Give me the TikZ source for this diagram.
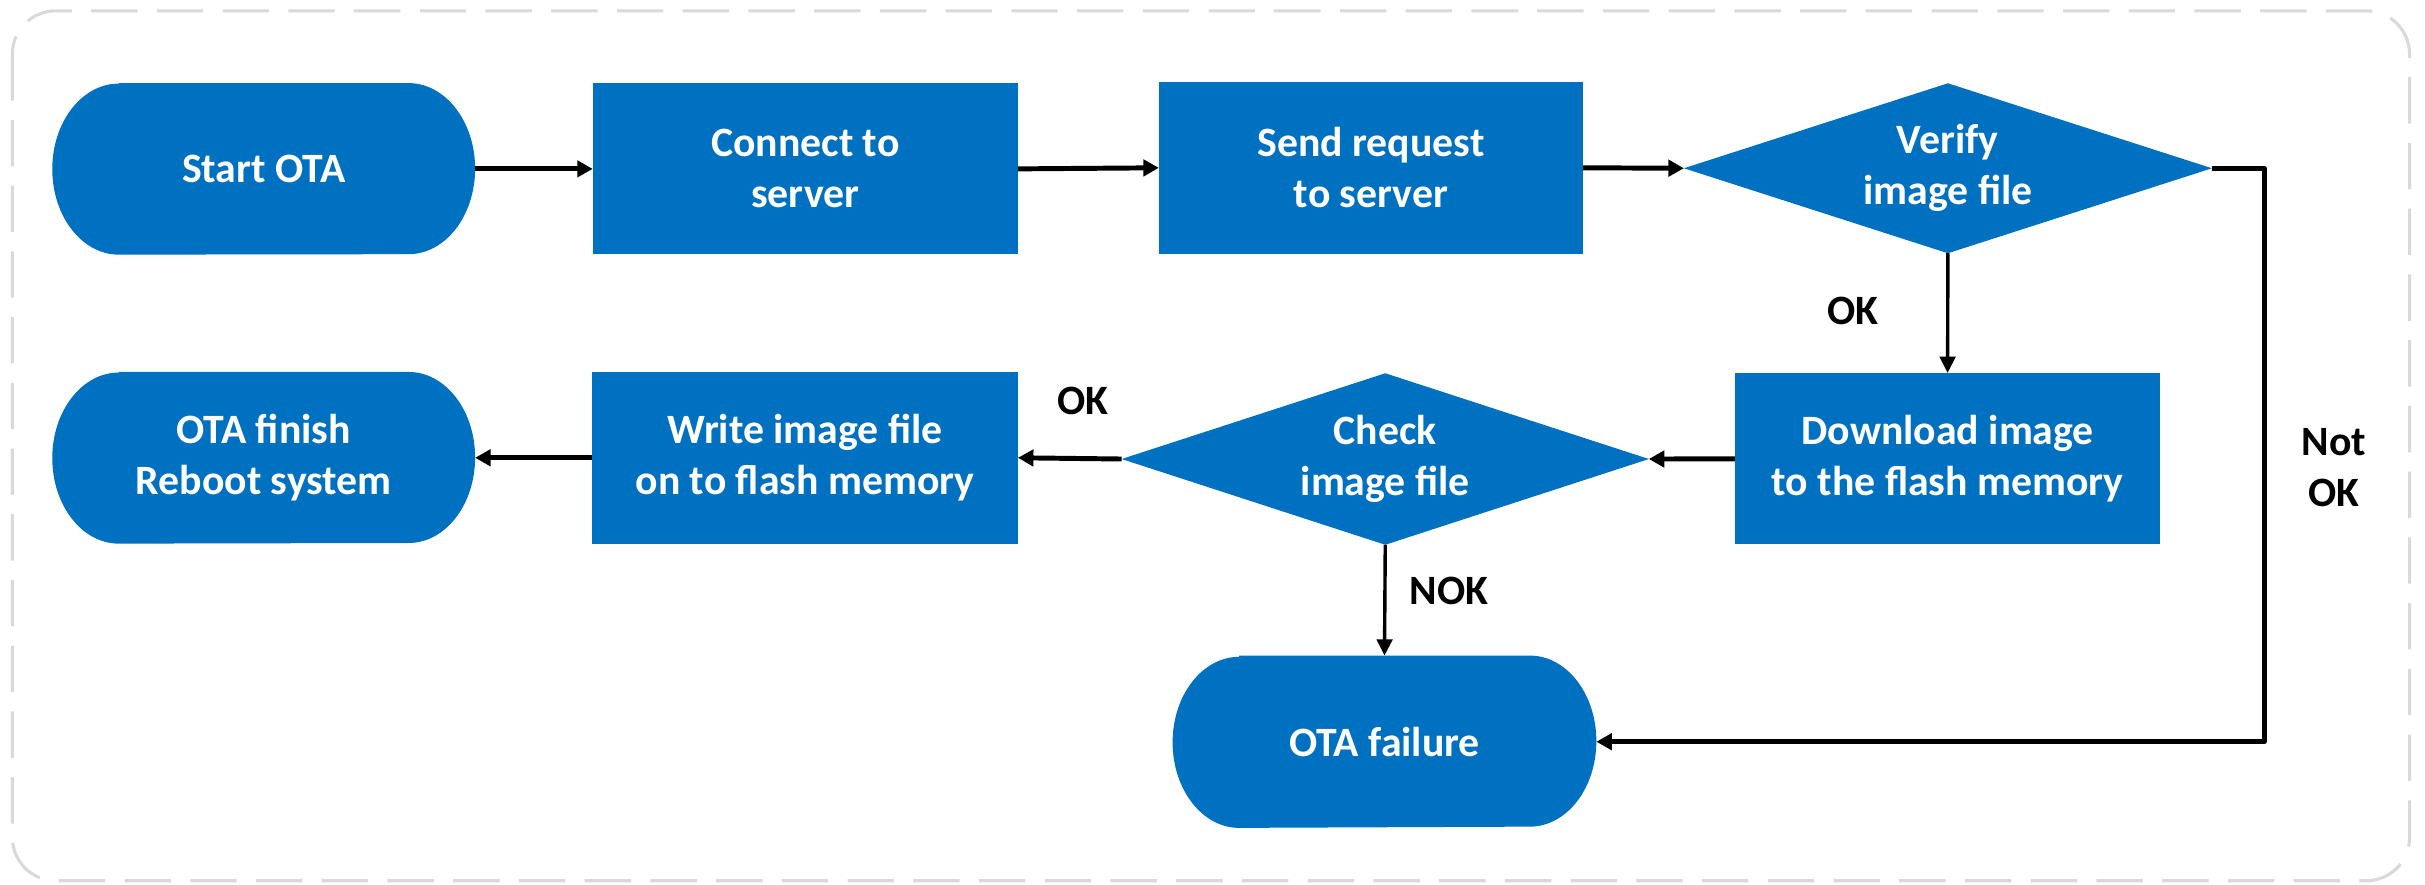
\documentclass[tikz,border=0pt]{standalone}
\usepackage{fontspec}
\setmainfont{Carlito}
\usetikzlibrary{arrows.meta,calc}
\definecolor{flowblue}{HTML}{0070C0}
\definecolor{framegray}{HTML}{D9D9D9}
\pgfdeclarelayer{background}
\pgfsetlayers{background,main}
\begin{document}
\begin{tikzpicture}[x=1pt,y=-1pt,
  txt/.style={font=\fontsize{27}{33}\selectfont\bfseries, align=center, inner sep=0pt},
  shp/.style={txt, text=white, rectangle},
  rbox/.style={shp, fill=flowblue},
  conn/.style={draw=black, line width=3.2pt, line join=round, -{Triangle[length=10pt,width=10.5pt]}},
  thinconn/.style={draw=black, line width=2.2pt, -{Triangle[length=10.5pt,width=10pt]}}]
\useasboundingbox (0,0) rectangle (1568,572);
\draw[framegray, line width=2pt, dash pattern=on 30pt off 12.5pt, rounded corners=28pt] (8,7) rectangle (1558,569.5);

% nodes
\node[shp, minimum width=273pt, minimum height=110.5pt] (start) at (170.5,109.2) {Start OTA};
\node[rbox, minimum width=274.5pt, minimum height=110.6pt] (connect) at (520.7,109.2) {Connect to\\server};
\node[rbox, minimum width=274pt, minimum height=111pt] (send) at (886.5,108.5) {Send request\\to server};
\node[shp, minimum width=341pt, minimum height=109.5pt] (verify) at (1259.5,108.8) {Verify\\image file};
\node[shp, minimum width=273pt, minimum height=110.6pt] (finish) at (170.5,296) {OTA finish\\Reboot system};
\node[rbox, minimum width=275pt, minimum height=111pt] (write) at (520.5,296) {Write image file\\on to flash memory};
\node[shp, minimum width=340.5pt, minimum height=110.5pt] (check) at (895.7,296.8) {Check\\image file};
\node[rbox, minimum width=274.6pt, minimum height=110.7pt] (download) at (1259.3,296.7) {Download image\\to the flash memory};
\node[shp, minimum width=273.6pt, minimum height=111pt] (failure) at (895.2,479.6) {OTA failure};

% shapes behind the text
\begin{pgfonlayer}{background}
\foreach \n in {start,finish,failure}{
  \fill[flowblue] ($(\n.north west)+(43,0)$) -- ($(\n.north east)+(-43,0)$)
    arc[start angle=90, end angle=-90, x radius=43pt, y radius=55.3pt]
    -- ($(\n.south west)+(43,0)$)
    arc[start angle=270, end angle=90, x radius=43pt, y radius=55.3pt] -- cycle;
}
\foreach \n in {verify,check}{
  \fill[flowblue] (\n.north) -- (\n.east) -- (\n.south) -- (\n.west) -- cycle;
}
\end{pgfonlayer}

% connectors
\draw[conn] (start.east) -- (connect.west);
\draw[conn] (connect.east) -- (send.west);
\draw[conn] (send.east) -- (verify.west);
\coordinate (rr) at (1464,108.8);
\draw[conn] (verify.east) -- (rr) |- (failure.east);
\draw[thinconn] (verify.south) -- (download.north);
\draw[conn] (download.west) -- (check.east);
\draw[conn] (check.west) -- (write.east);
\draw[conn] (write.west) -- (finish.east);
\draw[thinconn] (check.south) -- (failure.north);

% labels
\node[txt] (lok1) at (1198,201) {OK};
\node[txt] (lok2) at (700,259.5) {OK};
\node[txt] (lnok) at (937,382) {NOK};
\node[txt] (lnotok) at (1509,302.5) {Not\\OK};
\end{tikzpicture}
\end{document}
